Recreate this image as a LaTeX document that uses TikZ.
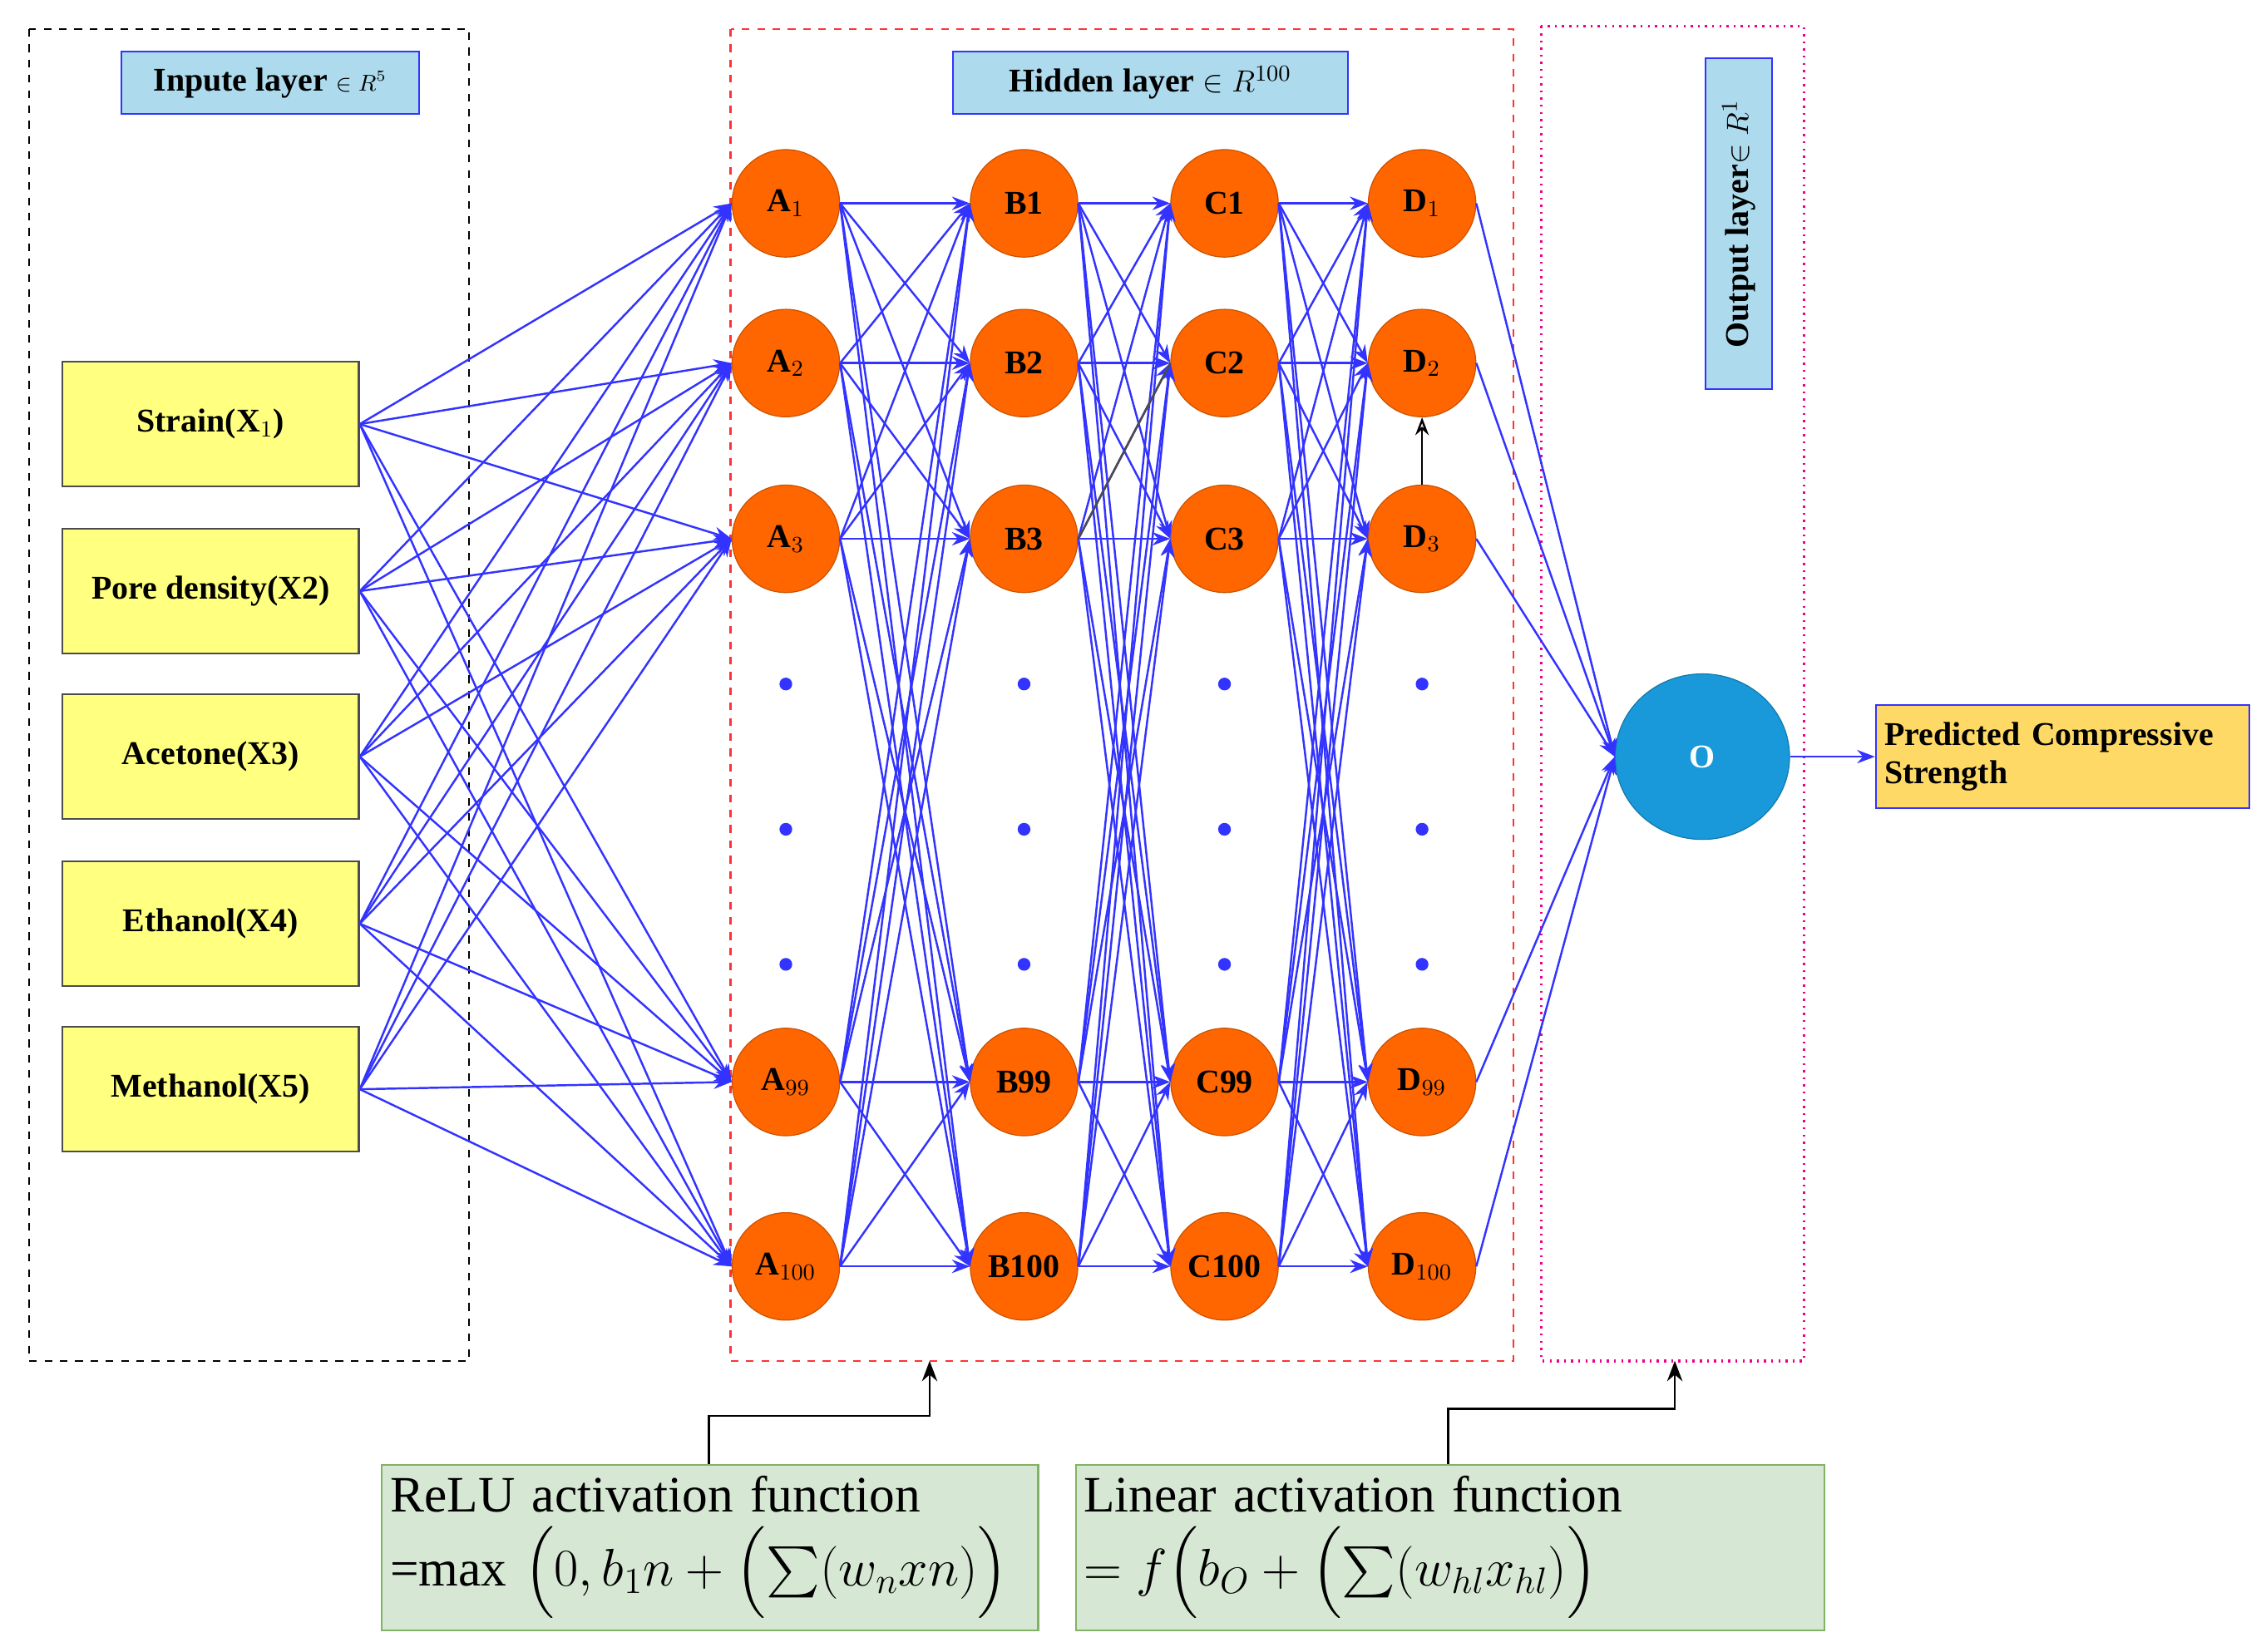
\documentclass[tikz,border=0pt]{standalone}
\usepackage{amsmath, amsfonts}
\usepackage{fontspec}
\setmainfont{Liberation Serif}
\usetikzlibrary{arrows.meta, shapes.geometric}
\definecolor{linkblue}{rgb}{0.2, 0.2, 1}
\definecolor{neuron}{rgb}{1, 0.4, 0}
\definecolor{titlefill}{rgb}{0.68, 0.86, 0.93}
\definecolor{inputfill}{rgb}{1, 1, 0.5}
\definecolor{outfill}{rgb}{0.1, 0.6, 0.85}
\definecolor{predfill}{rgb}{1, 0.85, 0.4}
\definecolor{notefill}{rgb}{0.84, 0.91, 0.83}
\definecolor{noteline}{rgb}{0.51, 0.70, 0.40}

\tikzset{
  neuron/.style = {circle, fill=neuron, draw=neuron!80!black, minimum size=1.48cm, inner sep=0pt, font=\bfseries\fontsize{13}{13}\selectfont},
  inbox/.style = {draw=black!70, thick, fill=inputfill, minimum width=4.08cm, minimum height=1.72cm, font=\bfseries\fontsize{13}{13}\selectfont},
  title/.style = {draw=blue!80, thick, fill=titlefill, font=\bfseries\fontsize{13}{13}\selectfont},
  link/.style = {linkblue, thick, -{Stealth[length=7pt]}},
  note/.style = {draw=noteline, thick, fill=notefill, anchor=north west, align=left, font=\fontsize{20}{24}\selectfont, inner sep=3pt},
  hdot/.style = {circle, fill=linkblue, inner sep=0pt, minimum size=5pt}
}

\begin{document}
\begin{tikzpicture}[x=0.02cm, y=-0.02cm]
\useasboundingbox (0,0) rectangle (1560,1137);

% layer frames
\draw [thick, dashed] (20,20) rectangle (323,937);
\draw [thick, dashed, red!80] (503,20) rectangle (1042,937);
\draw [thick, dotted, magenta, line width=1.2pt] (1061,18) rectangle (1242,937);

% titles
\node [title, minimum width=4.1cm, minimum height=0.86cm] (tin) at (186,57) {Inpute layer {\small$\in R^5$}};
\node [title, minimum width=5.44cm, minimum height=0.86cm] (thid) at (792,57) {Hidden layer $\in R^{100}$};
\node [title, minimum width=0.92cm, minimum height=4.56cm] (tout) at (1197,154) {};
\node [rotate=90, font=\bfseries\fontsize{13}{13}\selectfont] at (tout) {Output layer$\in R^1$};

% inputs
\node [inbox] (x1) at (145,292) {Strain(X$_1$)};
\node [inbox] (x2) at (145,407) {Pore density(X2)};
\node [inbox] (x3) at (145,521) {Acetone(X3)};
\node [inbox] (x4) at (145,636) {Ethanol(X4)};
\node [inbox] (x5) at (145,750) {Methanol(X5)};

% hidden neurons
\foreach \r/\y in {1/140, 2/250, 3/371, 99/745, 100/872} {
  \node [neuron] (a\r) at (541,\y) {A$_{\r}$};
  \node [neuron] (b\r) at (705,\y) {B\r};
  \node [neuron] (c\r) at (843,\y) {C\r};
  \node [neuron] (d\r) at (979,\y) {D$_{\r}$};
}
\foreach \x in {541, 705, 843, 979}
  \foreach \y in {471, 571, 664}
    \node [hdot] at (\x,\y) {};

% output
\node [ellipse, fill=outfill, draw=outfill!80!black, minimum width=2.4cm, minimum height=2.28cm, text=white, font=\bfseries\fontsize{13}{13}\selectfont] (o) at (1172,521) {O};
\node [draw=blue!80, thick, fill=predfill, minimum width=5.14cm, minimum height=1.42cm, text width=4.9cm, align=left, font=\bfseries\fontsize{13}{15}\selectfont] (pred) at (1420,521) {Predicted Compressive Strength};

% connections
\foreach \i in {1,...,5}
  \foreach \r in {1, 2, 3, 99, 100}
    \draw [link] (x\i.east) -- (a\r.west);
\foreach \s in {1, 2, 3, 99, 100}
  \foreach \t in {1, 2, 3, 99, 100} {
    \draw [link] (a\s.east) -- (b\t.west);
    \draw [link] (b\s.east) -- (c\t.west);
    \draw [link] (c\s.east) -- (d\t.west);
  }
\foreach \r in {1, 2, 3, 99, 100}
  \draw [link] (d\r.east) -- (o.west);
\draw [link] (o) -- (pred);
\draw [thick, black!70] (b3.east) -- (c2.west);
\draw [thick, -{Stealth[open, length=7pt]}] (d3) -- (d2);

% activation notes
\node [note, text width=8.8cm, minimum width=9.04cm, minimum height=2.28cm] (relu) at (262,1008)
  {ReLU activation function\\[4pt]=max $\Bigl(0, b_1 n + \Bigl(\sum (w_n x n)\Bigr)$};
\node [note, text width=10.1cm, minimum width=10.26cm, minimum height=2.28cm] (lin) at (740,1008)
  {Linear activation function\\[4pt]$= f\Bigl(b_O + \Bigl(\sum (w_{hl} x_{hl})\Bigr)$};
\coordinate (hidb) at (640,937);
\coordinate (outb) at (1153,937);
\draw [thick, -{Stealth[length=8pt]}] (relu.north -| 488,0) |- (640,975) -- (hidb);
\draw [thick, -{Stealth[length=8pt]}] (lin.north -| 997,0) |- (1153,970) -- (outb);

\end{tikzpicture}
\end{document}
